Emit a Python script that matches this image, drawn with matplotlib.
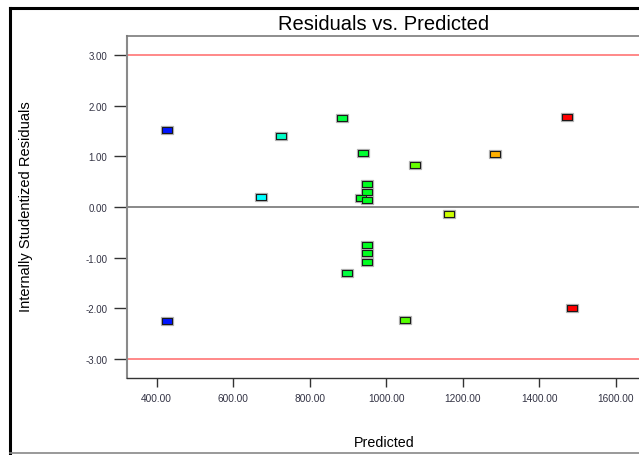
import matplotlib
matplotlib.use("Agg")
import matplotlib.pyplot as plt
from matplotlib.lines import Line2D

plt.rcParams['font.family'] = ['Liberation Sans', 'DejaVu Sans']

# valeurs
predicted = [427, 427, 724, 674, 884, 940, 1074, 949, 949, 934, 949,
             949, 949, 949, 897, 1048, 1473, 1285, 1165, 1484]
residuals = [1.52, -2.26, 1.40, 0.20, 1.77, 1.07, 0.83, 0.45, 0.30, 0.18, 0.13,
             -0.76, -0.92, -1.08, -1.31, -2.24, 1.78, 1.05, -0.14, -2.00]
couleurs = ['#0014ff', '#0014ff', '#00ffc8', '#00ffff', '#00ff40', '#00ff30',
            '#66ff00', '#00ff20', '#00ff20', '#00ff20', '#00ff20',
            '#00ff20', '#00ff20', '#00ff20', '#00ff40', '#55ff00',
            '#ff0000', '#ffb000', '#ccff00', '#ff0000']
limites = [3.0, -3.0]
xticks = [400, 600, 800, 1000, 1200, 1400, 1600]
yticks = [-3, -2, -1, 0, 1, 2, 3]

fig = plt.figure(figsize=(6.39, 4.56), dpi=100)
W, H = 639.0, 456.0
ax = fig.add_axes([127/W, (H-379)/H, (641-127)/W, (379-37)/H])

# rectangle marker
rect = [(-1, -0.62), (1, -0.62), (1, 0.62), (-1, 0.62), (-1, -0.62)]
for x, y, c in zip(predicted, residuals, couleurs):
    # petite ombre grise
    ax.plot(x, y, marker=rect, markersize=8.6, markerfacecolor='none',
            markeredgecolor='#b4b4b4', markeredgewidth=0.9, zorder=3)
    ax.plot(x, y, marker=rect, markersize=7.9, markerfacecolor=c,
            markeredgecolor='#1a1a1a', markeredgewidth=0.8, zorder=4)

for l in limites:
    ax.axhline(l, color='#ff7f7f', lw=1.3, zorder=2)
ax.axhline(0, color='#808080', lw=1.3, zorder=2)

ax.set_xlim(322.7, 1665.5)
ax.set_ylim(-3.386, 3.386)
ax.set_xticks(xticks)
ax.set_xticklabels(['%.2f' % v for v in xticks])
ax.set_yticks(yticks)
ax.set_yticklabels(['%.2f' % v for v in yticks])

for s in ['left', 'bottom']:
    ax.spines[s].set_color('#8a8a8a')
    ax.spines[s].set_linewidth(1.5)
ax.spines['bottom'].set_color('#333333')
ax.spines['bottom'].set_linewidth(1.0)
ax.spines['top'].set_color('#7a7a7a')
ax.spines['top'].set_linewidth(1.2)
ax.spines['right'].set_visible(False)

ax.tick_params(axis='y', direction='out', length=9.5, width=1.0, color='#333333',
               labelsize=7, labelcolor='#333344', pad=4.5)
ax.tick_params(axis='x', direction='out', length=6.5, width=1.0, color='#333333',
               labelsize=7.3, labelcolor='#333344', pad=4.5)

fig.text(384/W, 1 - 25/H, 'Residuals vs. Predicted', ha='center', va='center',
         fontsize=14.5, color='black')
fig.text(384/W, 1 - 443/H, 'Predicted', ha='center', va='center', fontsize=10.3)
fig.text(26/W, 1 - 207/H, 'Internally Studentized Residuals', ha='center',
         va='center', rotation=90, fontsize=10.5)

# cadre extérieur
fig.add_artist(Line2D([10/W, 10/W], [1 - 454/H, 1 - 9/H], color='black', lw=2.2))
fig.add_artist(Line2D([10/W, 1.0], [1 - 9/H, 1 - 9/H], color='black', lw=2.2))
fig.add_artist(Line2D([10/W, 1.0], [1 - 454/H, 1 - 454/H], color='#888888', lw=1.2))

fig.savefig('out.png', dpi=100)
